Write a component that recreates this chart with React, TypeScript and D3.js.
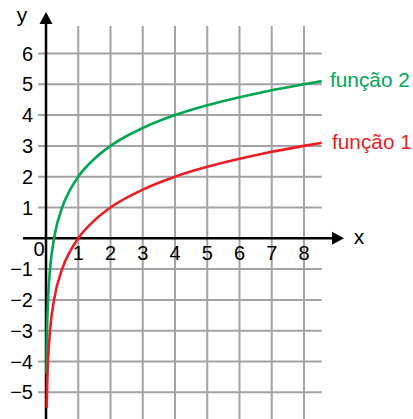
import * as d3 from "d3";

const W = 413;
const H = 419;

const xTicks = [1, 2, 3, 4, 5, 6, 7, 8];
const yTicks = [-5, -4, -3, -2, -1, 1, 2, 3, 4, 5, 6];

const funcao1X = [0.022, 0.04, 0.0625, 0.125, 0.25, 0.5, 0.75, 1, 1.5, 2, 3, 4, 5, 6, 7, 8, 8.55];
const funcao1Y = [-5.5, -4.64, -4, -3, -2, -1, -0.42, 0, 0.58, 1, 1.58, 2, 2.32, 2.58, 2.81, 3, 3.1];

const funcao2X = [0.012, 0.025, 0.04, 0.0625, 0.125, 0.25, 0.5, 0.75, 1, 1.5, 2, 3, 4, 5, 6, 7, 8, 8.55];
const funcao2Y = [-4.4, -3.32, -2.64, -2, -1, 0, 1, 1.58, 2, 2.58, 3, 3.58, 4, 4.32, 4.58, 4.81, 5, 5.1];

const GRID = "#a3a3a3";
const GREEN = "#00a651";
const RED = "#ed1c24";
const FONT = "Liberation Sans, Arial, sans-serif";

export default function App() {
  const x = d3.scaleLinear().domain([0, 8]).range([46, 304]);
  const y = d3.scaleLinear().domain([0, 6]).range([238.3, 53.5]);

  const line = d3
    .line<[number, number]>()
    .x((d) => x(d[0]))
    .y((d) => y(d[1]))
    .curve(d3.curveMonotoneX);

  const pts1 = funcao1X.map((v, i) => [v, funcao1Y[i]] as [number, number]);
  const pts2 = funcao2X.map((v, i) => [v, funcao2Y[i]] as [number, number]);

  const gridRight = x(8.55);
  const y0 = y(0);

  return (
    <svg width={W} height={H} style={{ position: "absolute", left: 0, top: 0, background: "#fff" }}>
      <rect width={W} height={H} fill="#fff" />
      {/* vertical grid */}
      {xTicks.map((t) => (
        <line key={"vx" + t} x1={x(t)} x2={x(t)} y1={26} y2={H} stroke={GRID} strokeWidth={2} />
      ))}
      {/* horizontal grid */}
      {yTicks.map((t) => (
        <line key={"hy" + t} x1={38} x2={gridRight} y1={y(t)} y2={y(t)} stroke={GRID} strokeWidth={2} />
      ))}
      {/* axes */}
      <line x1={23} x2={334} y1={y0} y2={y0} stroke="#000" strokeWidth={2.5} />
      <path d={`M344,${y0} L332,${y0 - 6.5} L332,${y0 + 6.5} Z`} fill="#000" />
      <line x1={x(0)} x2={x(0)} y1={H} y2={22} stroke="#000" strokeWidth={2.5} />
      <path d={`M${x(0)},12 L${x(0) - 6.5},24 L${x(0) + 6.5},24 Z`} fill="#000" />

      {/* curves */}
      <path d={line(pts2) ?? ""} fill="none" stroke={GREEN} strokeWidth={2.6} />
      <path d={line(pts1) ?? ""} fill="none" stroke={RED} strokeWidth={2.6} />

      {/* tick labels */}
      <g fontFamily={FONT} fontSize={20} fill="#000">
        {xTicks.map((t) => (
          <text key={"tx" + t} x={x(t)} y={260} textAnchor="middle">
            {t}
          </text>
        ))}
        <text x={39} y={256} textAnchor="middle">
          0
        </text>
        {yTicks.map((t) => (
          <text key={"ty" + t} x={33} y={y(t) + 7} textAnchor="end">
            {t < 0 ? "\u2212" + Math.abs(t) : t}
          </text>
        ))}
        <text x={22} y={22} textAnchor="middle" fontSize={21}>
          y
        </text>
        <text x={359} y={244} textAnchor="middle" fontSize={21}>
          x
        </text>
      </g>

      {/* series labels */}
      <text x={330} y={87} fontFamily={FONT} fontSize={20.8} fill={GREEN}>
        função 2
      </text>
      <text x={332} y={149} fontFamily={FONT} fontSize={20.8} fill={RED}>
        função 1
      </text>
    </svg>
  );
}
